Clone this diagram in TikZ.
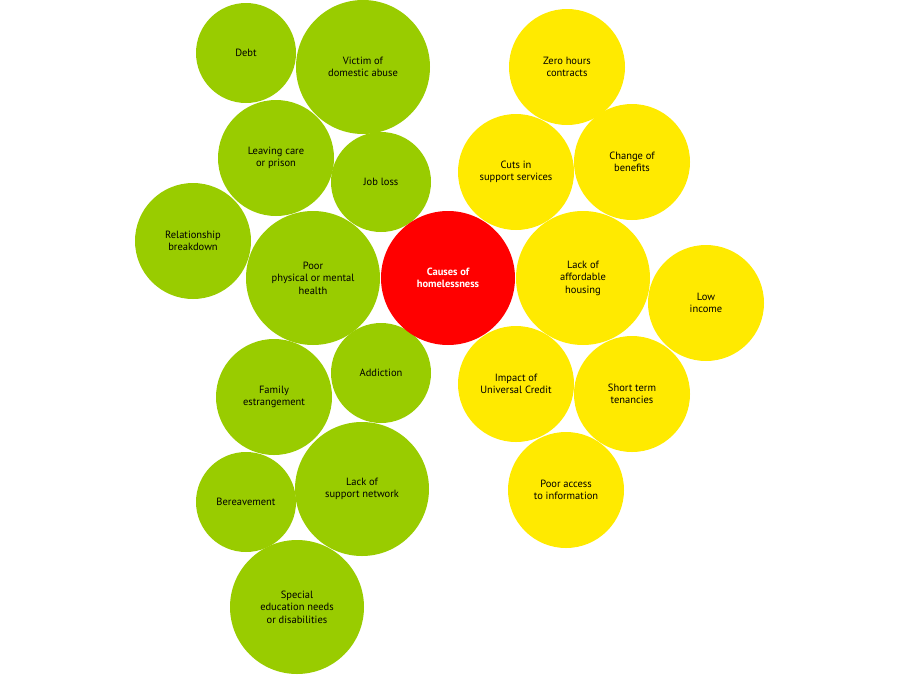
\documentclass[tikz,border=0pt]{standalone}
\usepackage{fontspec}
\setmainfont{PT Sans}
\definecolor{gr}{HTML}{99CC00}
\definecolor{ye}{HTML}{FFEA00}
\definecolor{rd}{HTML}{FF0000}
\begin{document}
\begin{tikzpicture}[x=1pt,y=-1pt,
  bub/.style={circle,inner sep=0pt,align=center,font=\fontsize{10.5}{12.5}\selectfont},
  gbub/.style={bub,fill=gr}, ybub/.style={bub,fill=ye}]
\useasboundingbox (0,0) rectangle (900,675);
\node[gbub,minimum size=100] (debt) at (246,53) {Debt};
\node[gbub,minimum size=134] (vic) at (363,67) {Victim of\\domestic abuse};
\node[gbub,minimum size=116] (leave) at (276,158) {Leaving care\\or prison};
\node[gbub,minimum size=100] (job) at (381,182) {Job loss};
\node[gbub,minimum size=116] (rel) at (193,241) {Relationship\\breakdown};
\node[gbub,minimum size=134] (poor) at (313,278) {Poor\\physical or mental\\health};
\node[gbub,minimum size=100] (add) at (381,373) {Addiction};
\node[gbub,minimum size=116] (fam) at (274,397) {Family\\estrangement};
\node[gbub,minimum size=100] (ber) at (246,502) {Bereavement};
\node[gbub,minimum size=134] (lsn) at (362,489) {Lack of\\support network};
\node[gbub,minimum size=134] (sen) at (297,607) {Special\\education needs\\or disabilities};
\node[bub,fill=rd,minimum size=134,text=white,font=\fontsize{10.5}{12.5}\selectfont\bfseries] (c) at (448,278) {Causes of\\homelessness};
\node[ybub,minimum size=116] (zero) at (567,67) {Zero hours\\contracts};
\node[ybub,minimum size=116] (cuts) at (516,172) {Cuts in\\support services};
\node[ybub,minimum size=116] (chg) at (632,162) {Change of\\benefits};
\node[ybub,minimum size=134] (aff) at (583,278) {Lack of\\affordable\\housing};
\node[ybub,minimum size=116] (low) at (706,303) {Low\\income};
\node[ybub,minimum size=116] (uc) at (516,384) {Impact of\\Universal Credit};
\node[ybub,minimum size=116] (st) at (632,394) {Short term\\tenancies};
\node[ybub,minimum size=116] (pa) at (566,490) {Poor access\\to information};
\end{tikzpicture}
\end{document}
